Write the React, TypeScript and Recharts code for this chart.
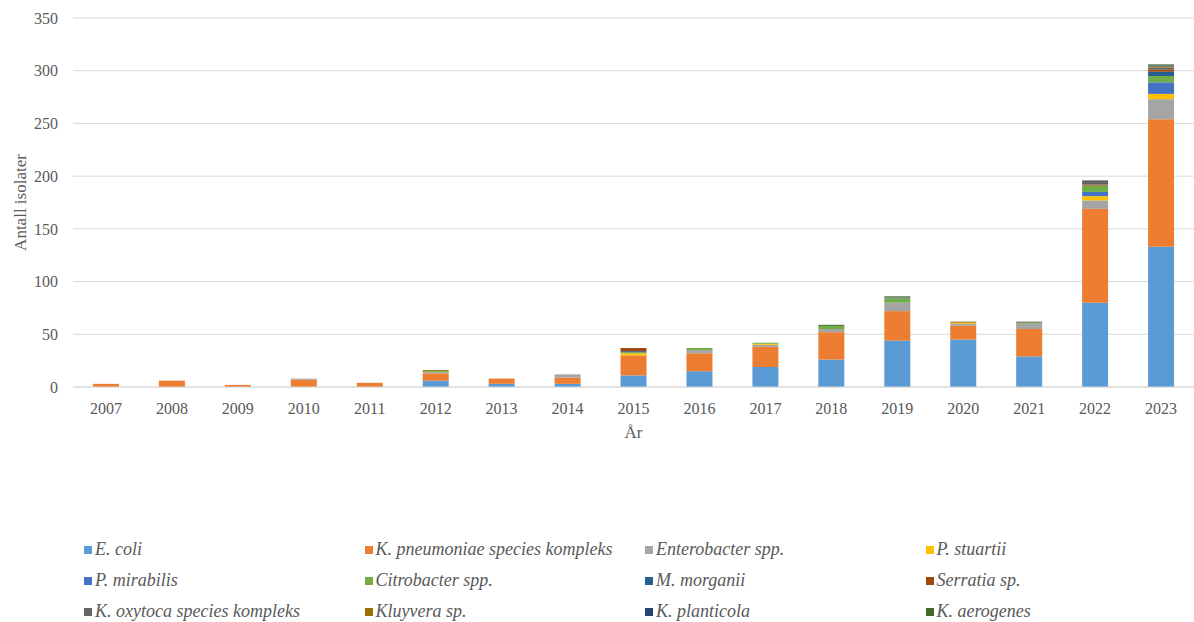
import React from 'react';
import { BarChart, Bar, XAxis, YAxis, CartesianGrid, Legend } from 'recharts';

const years = ['2007', '2008', '2009', '2010', '2011', '2012', '2013', '2014', '2015', '2016', '2017', '2018', '2019', '2020', '2021', '2022', '2023'];

const eColi = [0, 0, 0, 0, 0, 6, 3, 3, 11, 15, 19, 26, 44, 45, 29, 80, 133];
const kPneumoniae = [3, 6, 2, 7, 4, 7, 5, 6, 19, 17, 19, 26, 28, 13, 26, 89, 121];
const enterobacter = [0, 0, 0, 1, 0, 1, 0, 3, 0, 3, 2, 3, 8, 2, 5, 8, 19];
const pStuartii = [0, 0, 0, 0, 0, 0, 0, 0, 2, 0, 1, 0, 0, 1, 0, 4, 5];
const pMirabilis = [0, 0, 0, 0, 0, 0, 0, 0, 0, 0, 0, 0, 0, 0, 0, 4, 11];
const citrobacter = [0, 0, 0, 0, 0, 1, 0, 0, 1, 2, 1, 3, 4, 0, 1, 6, 6];
const mMorganii = [0, 0, 0, 0, 0, 0, 0, 0, 1, 0, 0, 0, 0, 0, 0, 0, 4];
const serratia = [0, 0, 0, 0, 0, 0, 0, 0, 3, 0, 0, 0, 0, 0, 0, 1, 2];
const kOxytoca = [0, 0, 0, 0, 0, 0, 0, 0, 0, 0, 0, 0, 1, 0, 1, 4, 2];
const kluyvera = [0, 0, 0, 0, 0, 1, 0, 0, 0, 0, 0, 0, 0, 1, 0, 0, 1];
const kPlanticola = [0, 0, 0, 0, 0, 0, 0, 0, 0, 0, 0, 0, 0, 0, 0, 0, 1];
const kAerogenes = [0, 0, 0, 0, 0, 0, 0, 0, 0, 0, 0, 1, 1, 0, 0, 0, 1];

const yTicks = [0, 50, 100, 150, 200, 250, 300, 350];

const series = [
  { key: 'eColi', name: 'E. coli', values: eColi, color: '#5B9BD5' },
  { key: 'kPneumoniae', name: 'K. pneumoniae species kompleks', values: kPneumoniae, color: '#ED7D31' },
  { key: 'enterobacter', name: 'Enterobacter spp.', values: enterobacter, color: '#A5A5A5' },
  { key: 'pStuartii', name: 'P. stuartii', values: pStuartii, color: '#FFC000' },
  { key: 'pMirabilis', name: 'P. mirabilis', values: pMirabilis, color: '#4472C4' },
  { key: 'citrobacter', name: 'Citrobacter spp.', values: citrobacter, color: '#70AD47' },
  { key: 'mMorganii', name: 'M. morganii', values: mMorganii, color: '#255E91' },
  { key: 'serratia', name: 'Serratia sp.', values: serratia, color: '#9E480E' },
  { key: 'kOxytoca', name: 'K. oxytoca species kompleks', values: kOxytoca, color: '#636363' },
  { key: 'kluyvera', name: 'Kluyvera sp.', values: kluyvera, color: '#997300' },
  { key: 'kPlanticola', name: 'K. planticola', values: kPlanticola, color: '#264478' },
  { key: 'kAerogenes', name: 'K. aerogenes', values: kAerogenes, color: '#43682B' },
];

const data = years.map((year, i) => {
  const row: Record<string, string | number> = { year };
  series.forEach((s) => {
    row[s.key] = s.values[i];
  });
  return row;
});

const FONT = "'Liberation Serif', 'DejaVu Serif', 'Times New Roman', serif";
const TEXT = '#595959';

const renderLegend = () => (
  <div
    style={{
      display: 'grid',
      gridTemplateColumns: 'repeat(4, 280.5px)',
      gridAutoRows: '31px',
      paddingLeft: 84,
      fontFamily: FONT,
    }}
  >
    {series.map((s) => (
      <div key={s.key} style={{ display: 'flex', alignItems: 'center' }}>
        <span style={{ display: 'inline-block', width: 8, height: 8, background: s.color, marginRight: 3, flex: 'none' }} />
        <span style={{ fontStyle: 'italic', fontSize: 18, color: TEXT, whiteSpace: 'nowrap' }}>{s.name}</span>
      </div>
    ))}
  </div>
);

const YLabel = (props: any) => {
  const vb = props.viewBox || {};
  const cy = (vb.y || 0) + (vb.height || 0) / 2;
  const cx = 20;
  return (
    <text
      x={cx}
      y={cy}
      transform={`rotate(-90 ${cx} ${cy})`}
      textAnchor="middle"
      dominantBaseline="central"
      fill={TEXT}
      fontSize={17}
      style={{ fontFamily: FONT }}
    >
      Antall isolater
    </text>
  );
};

const XLabel = (props: any) => {
  const vb = props.viewBox || {};
  const cx = (vb.x || 0) + (vb.width || 0) / 2;
  const y = (vb.y || 0) + 51;
  return (
    <text x={cx} y={y} textAnchor="middle" fill={TEXT} fontSize={17} style={{ fontFamily: FONT }}>
      År
    </text>
  );
};

export default function App() {
  return (
    <div style={{ position: 'absolute', left: 0, top: 0, width: 1194, height: 622, background: '#fff', fontFamily: FONT }}>
      <BarChart
        width={1194}
        height={622}
        data={data}
        margin={{ top: 18, right: 0, bottom: 185, left: 0 }}
        style={{ fontFamily: FONT }}
      >
        <CartesianGrid vertical={false} stroke="#d9d9d9" strokeWidth={1} />
        <XAxis
          dataKey="year"
          height={50}
          tickLine={false}
          axisLine={{ stroke: '#d9d9d9' }}
          tickMargin={10}
          tick={{ fill: TEXT, fontSize: 16, style: { fontFamily: FONT } }}
          interval={0}
          label={<XLabel />}
        />
        <YAxis
          width={73}
          domain={[0, 350]}
          ticks={yTicks}
          interval={0}
          tickLine={false}
          axisLine={false}
          tickMargin={9}
          tick={{ fill: TEXT, fontSize: 16, style: { fontFamily: FONT } }}
          label={<YLabel />}
        />
        <Legend
          layout="horizontal"
          verticalAlign="middle"
          align="center"
          wrapperStyle={{ left: 0, top: 534, width: 1194 }}
          content={renderLegend}
        />
        {series.map((s) => (
          <Bar
            key={s.key}
            dataKey={s.key}
            name={s.name}
            stackId="a"
            fill={s.color}
            barSize={26}
            isAnimationActive={false}
          />
        ))}
      </BarChart>
    </div>
  );
}
